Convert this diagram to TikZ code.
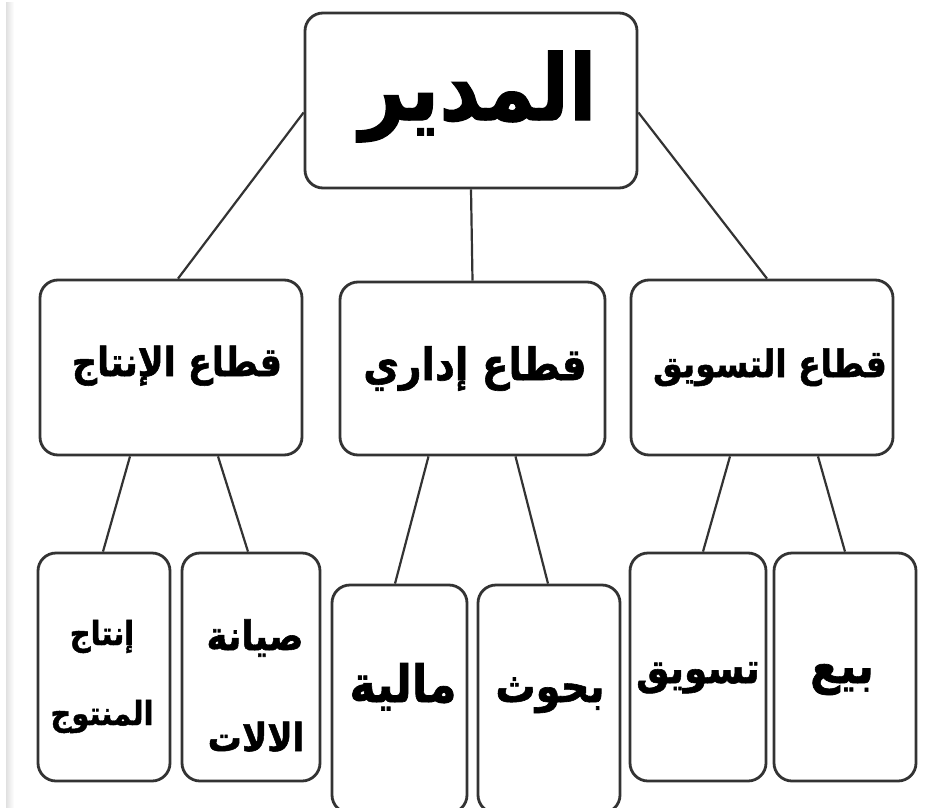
\documentclass[tikz,border=0pt]{standalone}
\usepackage{graphicx}
\usepackage{fontspec}
\newfontfamily\arabicfont[Script=Arabic, BoldFeatures={FakeBold=1.4}]{DejaVu Sans}
\TeXXeTstate=1
\newcommand{\arsz}[1]{\arabicfont\bfseries\fontsize{#1}{#1}\selectfont}
\newcommand{\artxt}[1]{\scalebox{1}[1.14]{\beginR #1\endR}}
\tikzset{
  box/.style={draw=black!80, line width=2.8pt, rounded corners=18pt, fill=white, inner sep=0pt},
  conn/.style={draw=black!80, line width=2.2pt},
  lbl/.style={inner sep=0pt, text=black, anchor=base}
}
\begin{document}
\begin{tikzpicture}[x=1pt,y=-1pt]
\useasboundingbox (0,0) rectangle (934,808);
\fill[white] (0,0) rectangle (934,808);
\shade[left color=black!12, right color=white] (6,3) rectangle (14,808);
% boxes
\node[box, minimum width=332pt, minimum height=175pt] (top) at (471,100.5) {};
\node[box, minimum width=262pt, minimum height=175pt] (L) at (171,367.5) {};
\node[box, minimum width=265pt, minimum height=173pt] (M) at (472.5,368.5) {};
\node[box, minimum width=262pt, minimum height=175pt] (R) at (762,367.5) {};
\node[box, minimum width=132pt, minimum height=228pt] (b1) at (104,667) {};
\node[box, minimum width=138pt, minimum height=228pt] (b2) at (251,667) {};
\node[box, minimum width=135pt, minimum height=228pt] (b3) at (399.5,699) {};
\node[box, minimum width=142pt, minimum height=228pt] (b4) at (549,699) {};
\node[box, minimum width=136pt, minimum height=228pt] (b5) at (698,667) {};
\node[box, minimum width=142pt, minimum height=228pt] (b6) at (845,667) {};
% labels
\node[lbl, font=\arsz{80}] (ttop) at (478,120) {\artxt{المدير}};
\node[lbl, font=\arsz{35}] (tL) at (177,376) {\artxt{قطاع الإنتاج}};
\node[lbl, font=\arsz{39}] (tM) at (475,380) {\artxt{قطاع إداري}};
\node[lbl, font=\arsz{33}] (tR) at (770,377) {\artxt{قطاع التسويق}};
\node[lbl, font=\arsz{29}] (t1a) at (102,645) {\artxt{إنتاج}};
\node[lbl, font=\arsz{29}] (t1b) at (102,725) {\artxt{المنتوج}};
\node[lbl, font=\arsz{35.5}] (t2a) at (255,650) {\artxt{صيانة}};
\node[lbl, font=\arsz{34}] (t2b) at (256,751) {\artxt{الالات}};
\node[lbl, font=\arsz{45}] (t3) at (403,702) {\artxt{مالية}};
\node[lbl, font=\arsz{40}] (t4) at (550,702) {\artxt{بحوث}};
\node[lbl, font=\arsz{37.5}] (t5) at (698,683) {\artxt{تسويق}};
\node[lbl, font=\arsz{43.5}] (t6) at (842,683) {\artxt{بيع}};
% connectors
\draw[conn] ([yshift=-12pt]top.west) -- ([xshift=7pt]L.north);
\draw[conn] (top.south) -- (M.north);
\draw[conn] ([yshift=-12pt]top.east) -- ([xshift=5pt]R.north);
\draw[conn] ([xshift=-41pt]L.south) -- ([xshift=-1pt]b1.north);
\draw[conn] ([xshift=47pt]L.south) -- ([xshift=-3pt]b2.north);
\draw[conn] ([xshift=-44pt]M.south) -- ([xshift=-4.5pt]b3.north);
\draw[conn] ([xshift=43pt]M.south) -- ([xshift=-1pt]b4.north);
\draw[conn] ([xshift=-32pt]R.south) -- ([xshift=5pt]b5.north);
\draw[conn] ([xshift=56pt]R.south) -- (b6.north);
\end{tikzpicture}
\end{document}
